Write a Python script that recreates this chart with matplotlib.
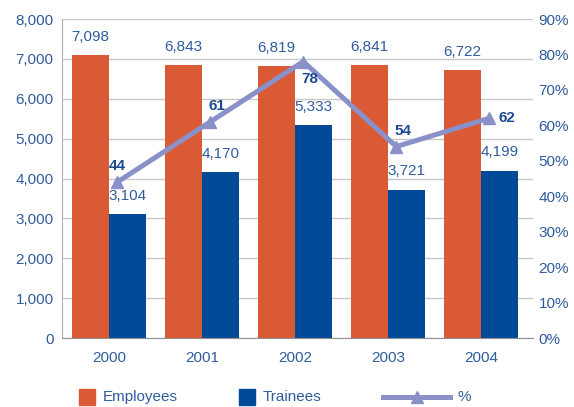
import matplotlib
matplotlib.use("Agg")
import matplotlib.pyplot as plt
from matplotlib.lines import Line2D
from matplotlib.patches import Rectangle
import numpy as np

years = ["2000", "2001", "2002", "2003", "2004"]
employees = [7098, 6843, 6819, 6841, 6722]
trainees = [3104, 4170, 5333, 3721, 4199]
pct = [44, 61, 78, 54, 62]

plt.rcParams['font.family'] = ['Liberation Sans', 'DejaVu Sans']

c_emp = "#D95A35"
c_tr = "#004A98"
c_line = "#8A90C8"
c_txt = "#2F5C9E"
c_bold = "#1C4A92"
fs = 11

W, H = 574, 407
fig = plt.figure(figsize=(W/100, H/100), dpi=100)
ax = fig.add_axes([0.108, 0.1695, 0.8206, 0.7838])
x = np.arange(len(years))
w = 0.4
ax.bar(x - w/2, employees, w, color=c_emp, zorder=2)
ax.bar(x + w/2, trainees, w, color=c_tr, zorder=2)
ax.set_ylim(0, 8000)
ax.set_xlim(-0.505, 4.56)
ax.set_yticks(range(0, 8001, 1000))
ax.set_yticklabels([f"{v:,}" for v in range(0, 8001, 1000)])
ax.set_xticks(x)
ax.set_xticklabels(years)
ax.grid(axis='y', color='#C8C8C8', linewidth=1, zorder=0)
for s in ['top', 'right']:
    ax.spines[s].set_visible(False)
ax.spines['left'].set_color('#B0B0B0')
ax.spines['bottom'].set_color('#909090')
ax.tick_params(axis='both', length=0, colors=c_txt, labelsize=fs)
ax.tick_params(axis='x', pad=9)
ax.tick_params(axis='y', pad=6)

for xi, v in zip(x, employees):
    ax.text(xi - w/2, v + 280, f"{v:,}", ha='center', va='bottom', color=c_txt, fontsize=fs)
for xi, v in zip(x, trainees):
    ax.text(xi + w/2, v + 280, f"{v:,}", ha='center', va='bottom', color=c_txt, fontsize=fs)

ax2 = ax.twinx()
ax2.set_ylim(0, 90)
ax2.set_yticks(range(0, 91, 10))
ax2.set_yticklabels([f"{v}%" for v in range(0, 91, 10)])
ax2.tick_params(axis='y', length=0, colors=c_txt, labelsize=fs, pad=4)
for s in ['top', 'right', 'left', 'bottom']:
    ax2.spines[s].set_visible(False)
xl = x + 0.09
ax2.plot(xl, pct, color=c_line, linewidth=3.6, marker='^', markersize=9, zorder=3)
for i, (xi, v) in enumerate(zip(xl, pct)):
    if i == 2:
        ax2.text(xi - 0.02, v - 3, f"{v}", ha='left', va='top', color=c_bold, fontsize=fs, fontweight='bold')
    elif i == 4:
        ax2.text(xi + 0.1, v, f"{v}", ha='left', va='center', color=c_bold, fontsize=fs, fontweight='bold')
    elif i == 0:
        ax2.text(xi, v + 2.5, f"{v}", ha='center', va='bottom', color=c_bold, fontsize=fs, fontweight='bold')
    else:
        ax2.text(xi - 0.02, v + 2.5, f"{v}", ha='left', va='bottom', color=c_bold, fontsize=fs, fontweight='bold')

# legend drawn manually in figure pixel coordinates
def fx(px):
    return px / W
def fy(py):
    return 1 - py / H

ly = 397
fig.patches.append(Rectangle((fx(79), fy(405)), 16/W, 16/H, transform=fig.transFigure,
                             color=c_emp, figure=fig))
fig.text(fx(103), fy(ly), "Employees", color=c_txt, fontsize=fs, va='center', ha='left')
fig.patches.append(Rectangle((fx(239), fy(405)), 16/W, 16/H, transform=fig.transFigure,
                             color=c_tr, figure=fig))
fig.text(fx(263), fy(ly), "Trainees", color=c_txt, fontsize=fs, va='center', ha='left')
fig.lines.append(Line2D([fx(383), fx(450)], [fy(ly), fy(ly)], transform=fig.transFigure,
                        color=c_line, linewidth=3.6, figure=fig))
fig.lines.append(Line2D([fx(417)], [fy(ly)], transform=fig.transFigure, marker='^',
                        markersize=9, color=c_line, linestyle='none', figure=fig))
fig.text(fx(458), fy(ly), "%", color=c_txt, fontsize=fs, va='center', ha='left')

fig.savefig("out.png", dpi=100)
